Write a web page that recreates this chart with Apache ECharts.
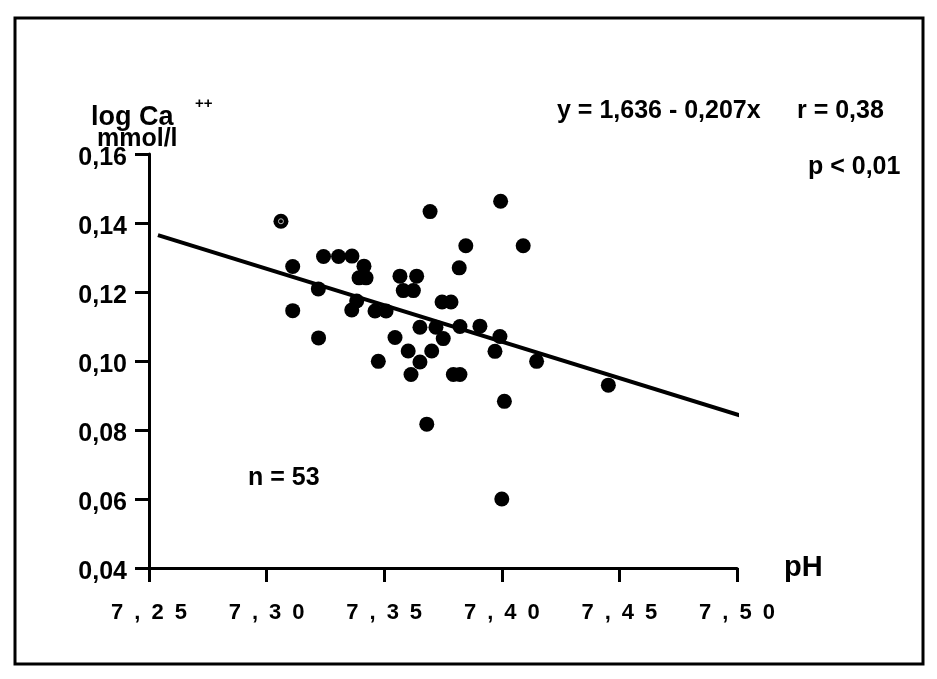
<!DOCTYPE html>
<html>
<head>
<meta charset="utf-8">
<script src="https://cdn.jsdelivr.net/npm/echarts@6/dist/echarts.min.js"></script>
<style>
html,body{margin:0;padding:0;background:#fff;}
#chart{width:937px;height:679px;}
</style>
</head>
<body>
<div id="chart"></div>
<script>
// pH values (x) and log Ca++ mmol/l values (y)
const phValues = [7.3061,7.3111,7.3111,7.3220,7.3221,7.3242,7.3306,7.3363,7.3414,7.3393,
  7.3423,7.3362,7.3383,7.3461,7.3508,7.3567,7.3638,7.3581,7.3624,7.3695,
  7.3995,7.3847,7.4091,7.3819,7.3746,7.3784,7.3652,7.3720,7.3822,7.3907,
  7.3751,7.3992,7.3971,7.3546,7.3602,7.3702,7.3475,7.3652,7.3614,7.3794,
  7.3822,7.4148,7.4011,7.3681,7.4000,7.4453];
const caValues = [0.1405,0.1274,0.1146,0.1209,0.1067,0.1303,0.1303,0.1304,0.1275,0.1241,
  0.1241,0.1148,0.1174,0.1145,0.1145,0.1246,0.1246,0.1204,0.1204,0.1433,
  0.1463,0.1334,0.1334,0.1270,0.1171,0.1171,0.1098,0.1098,0.1100,0.1101,
  0.1065,0.1071,0.1028,0.1068,0.1029,0.1029,0.0999,0.0997,0.0961,0.0961,
  0.0961,0.0999,0.0883,0.0817,0.0600,0.0930];
// regression line end points (y = 1,636 - 0,207x)
const fitX = [7.2538, 7.5024];
const fitY = [0.1365, 0.0840];
// marked point (open centre)
const markedX = [7.3061];
const markedY = [0.1405];
// tick labels
const xTickLabels = ['7,25','7,30','7,35','7,40','7,45','7,50'];
const yTickLabels = ['0,04','0,06','0,08','0,10','0,12','0,14','0,16'];

const FONT = "'Liberation Sans', Arial, sans-serif";
const chart = echarts.init(document.getElementById('chart'), null, {renderer:'canvas'});
const pts = phValues.map((x,i)=>[x, caValues[i]]);
const fit = fitX.map((x,i)=>[x, fitY[i]]);
const marked = markedX.map((x,i)=>[x, markedY[i]]);

chart.setOption({
  animation:false,
  backgroundColor:'#fff',
  grid:{left:149, top:154, width:588, height:414, containLabel:false},
  xAxis:{
    type:'value', min:7.25, max:7.50, interval:0.05,
    axisLine:{show:true, lineStyle:{color:'#000', width:3}},
    axisTick:{show:true, length:14, lineStyle:{color:'#000', width:3}},
    splitLine:{show:false},
    axisLabel:{
      margin:34, color:'#000', fontFamily:FONT, fontWeight:'bold', fontSize:22,
      formatter:function(v){
        const i = Math.round((v-7.25)/0.05);
        const s = xTickLabels[i] || '';
        return s.split('').join('\u2002');
      }
    }
  },
  yAxis:{
    type:'value', min:0.04, max:0.16, interval:0.02,
    axisLine:{show:true, lineStyle:{color:'#000', width:3}},
    axisTick:{show:true, length:14, lineStyle:{color:'#000', width:3}},
    splitLine:{show:false},
    axisLabel:{
      margin:22, color:'#000', fontFamily:FONT, fontWeight:'bold', fontSize:25,
      verticalAlign:'top', lineHeight:8,
      formatter:function(v){
        const i = Math.round((v-0.04)/0.02);
        return yTickLabels[i] || '';
      }
    }
  },
  series:[
    {type:'line', data:fit, symbol:'none', clip:false, lineStyle:{color:'#000', width:4}, z:2},
    {type:'scatter', data:pts, symbol:'circle', symbolSize:15, itemStyle:{color:'#000', opacity:1}, z:3},
    {type:'scatter', data:marked, symbol:'circle', symbolSize:5, itemStyle:{color:'#000', opacity:1, borderColor:'#bbb', borderWidth:1}, z:4}
  ],
  graphic:[
    {type:'rect', shape:{x:15, y:18, width:908, height:646}, style:{fill:'none', stroke:'#000', lineWidth:3}, silent:true},
    {type:'text', left:91, top:104, style:{text:'log Ca', fill:'#000', font:"bold 27px "+FONT}},
    {type:'text', left:195, top:96, style:{text:'++', fill:'#000', font:"bold 15px "+FONT}},
    {type:'text', left:97, top:127, style:{text:'mmol/l', fill:'#000', font:"bold 25px "+FONT}},
    {type:'text', left:557, top:99, style:{text:'y = 1,636 - 0,207x', fill:'#000', font:"bold 25px "+FONT}},
    {type:'text', left:797, top:99, style:{text:'r = 0,38', fill:'#000', font:"bold 25px "+FONT}},
    {type:'text', left:808, top:155, style:{text:'p < 0,01', fill:'#000', font:"bold 25px "+FONT}},
    {type:'text', left:248, top:466, style:{text:'n = 53', fill:'#000', font:"bold 25px "+FONT}},
    {type:'text', left:784, top:553, style:{text:'pH', fill:'#000', font:"bold 29px "+FONT}}
  ]
});
</script>
</body>
</html>
